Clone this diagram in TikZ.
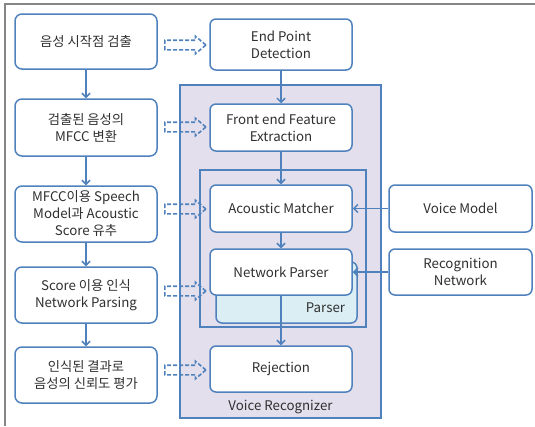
\documentclass[tikz,border=0pt]{standalone}
\usepackage{fontspec}
\setmainfont{Noto Sans CJK KR}
\usetikzlibrary{arrows.meta,shapes.arrows}
\definecolor{bl}{HTML}{4F81BD}
\definecolor{lav}{HTML}{E4DFEC}
\definecolor{pblue}{HTML}{DAEEF3}
\definecolor{txt}{HTML}{303030}
\tikzset{
  box/.style={draw=bl, line width=1.5pt, rounded corners=7pt, fill=white, align=center,
    font=\fontsize{13.3}{17}\selectfont, text=txt, inner sep=0pt},
  lbox/.style={box, minimum width=142pt},
  mbox/.style={box, minimum width=142pt, rounded corners=6pt},
  rbox/.style={box, minimum width=143pt, rounded corners=6pt},
  conn/.style={draw=bl, line width=1.5pt, -{Straight Barb[length=4pt,width=8pt,line width=1.5pt]}},
  blk/.style={single arrow, draw=bl, dashed, dash pattern=on 4pt off 2pt, line width=1.6pt,
    inner sep=4pt, single arrow head extend=4pt, minimum height=41pt, single arrow tip angle=80},
  lbl/.style={font=\fontsize{13.3}{17}\selectfont, text=txt, inner sep=0pt}
}
\begin{document}
\begin{tikzpicture}[x=1pt,y=-1pt]
\useasboundingbox (0,0) rectangle (535,426);
% frame
\draw[gray!95, line width=2pt] (5,426) coordinate (f1) -- (5,4) coordinate (f2) -- (535,4) coordinate (f3);
% voice recognizer container
\draw[draw=bl, fill=lav, line width=1.5pt] (180,85) rectangle (381,418);
\node[lbl] (vr) at (280.5,407) {Voice Recognizer};
\draw[draw=bl, line width=1.5pt] (200,170) rectangle (366,327);
\draw[draw=bl, fill=pblue, line width=1.5pt, rounded corners=6pt] (216,262) rectangle (357,323);
\node[lbl] (parser) at (325.5,308) {Parser};
% left column
\node[lbox, minimum height=55pt] (l1) at (86,41.5) {음성 시작점 검출};
\node[lbox, minimum height=57pt] (l2) at (86,127.5) {검출된 음성의\\MFCC 변환};
\node[lbox, minimum height=56pt] (l3) at (86,214) {MFCC이용 Speech\\Model과 Acoustic\\Score 유추};
\node[lbox, minimum height=56pt] (l4) at (86,295) {Score 이용 인식\\Network Parsing};
\node[lbox, minimum height=56pt] (l5) at (86,375) {인식된 결과로\\음성의 신뢰도 평가};
% middle column
\node[mbox, minimum height=51pt] (m1) at (281,44.5) {End Point\\Detection};
\node[mbox, minimum height=47pt] (m2) at (281,127.5) {Front end Feature\\Extraction};
\node[mbox, minimum height=47pt] (m3) at (281,208.5) {Acoustic Matcher};
\node[mbox, minimum height=46pt] (m4) at (281,272) {Network Parser};
\node[mbox, minimum height=46pt] (m5) at (281,369) {Rejection};
% right column
\node[rbox, minimum height=47pt] (r1) at (460.5,208.5) {Voice Model};
\node[rbox, minimum height=46pt] (r2) at (460.5,272) {Recognition\\Network};
% solid arrows
\draw[conn] (l1) -- (l2);
\draw[conn] (l2) -- (l3);
\draw[conn] (l3) -- (l4);
\draw[conn] (l4) -- (l5);
\draw[conn] (m1) -- (m2);
\draw[conn] (m2) -- (m3);
\draw[conn] (m3) -- (m4);
\draw[conn] (m4) -- (m5);
\draw[conn] (r1) -- (m3);
\draw[conn] (r2) -- (m4);
% dashed block arrows
\node[blk] (b1) at (182.5,45) {};
\node[blk] (b2) at (182.5,127) {};
\node[blk] (b3) at (182.5,209) {};
\node[blk] (b4) at (182.5,291) {};
\node[blk] (b5) at (182.5,370) {};
\end{tikzpicture}
\end{document}
